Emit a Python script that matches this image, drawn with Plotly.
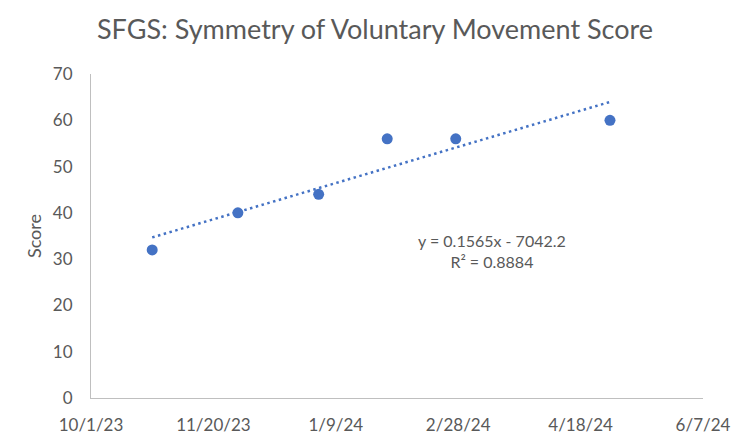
import numpy as np
import pandas as pd
import plotly.graph_objects as go

# Data
dates = ["2023-10-26", "2023-11-30", "2024-01-02", "2024-01-30", "2024-02-27", "2024-04-30"]
scores = [32, 40, 44, 56, 56, 60]

tick_dates = ["2023-10-01", "2023-11-20", "2024-01-09", "2024-02-28", "2024-04-18", "2024-06-07"]
tick_labels = ["10/1/23", "11/20/23", "1/9/24", "2/28/24", "4/18/24", "6/7/24"]

title = "SFGS: Symmetry of Voluntary Movement Score"
y_title = "Score"

# Linear trendline (Excel serial dates)
dt = pd.to_datetime(dates)
serial = np.array((dt - pd.Timestamp("1899-12-30")).days, dtype=float)
y = np.array(scores, dtype=float)
slope, intercept = np.polyfit(serial, y, 1)
pred = slope * serial + intercept
r2 = 1 - np.sum((y - pred) ** 2) / np.sum((y - y.mean()) ** 2)
x_line = [dt.min(), dt.max()]
y_line = [slope * serial.min() + intercept, slope * serial.max() + intercept]

blue = "#4472C4"
grey = "#595959"
font_family = "Lato, 'Open Sans', sans-serif"

fig = go.Figure()
fig.add_trace(go.Scatter(
    x=x_line, y=y_line, mode="lines",
    line=dict(color=blue, width=2.5, dash="2.5px,3.5px"),
    hoverinfo="skip", showlegend=False,
))
fig.add_trace(go.Scatter(
    x=dt, y=scores, mode="markers",
    marker=dict(color=blue, size=11),
    showlegend=False,
))

sign = "-" if intercept < 0 else "+"
eq = f"y = {slope:.4f}x {sign} {abs(intercept):.1f}<br>R² = {r2:.4f}"
fig.add_annotation(
    xref="paper", yref="paper", x=0.656, y=0.455, xanchor="center", yanchor="middle",
    text=eq, showarrow=False, align="center",
    font=dict(family=font_family, size=16, color=grey),
)

fig.update_layout(
    width=750, height=447,
    margin=dict(l=91, r=47, t=74, b=47),
    paper_bgcolor="white", plot_bgcolor="white",
    title=dict(text=title, x=0.5, xanchor="center", y=0.935, yanchor="middle",
               font=dict(family=font_family, size=27, color=grey)),
    font=dict(family=font_family, color=grey),
    xaxis=dict(
        type="date", range=[tick_dates[0], tick_dates[-1]],
        tickmode="array", tickvals=tick_dates, ticktext=tick_labels,
        showgrid=False, zeroline=False, showline=True, linecolor="#BFBFBF", linewidth=1,
        ticks="", tickfont=dict(size=17, color=grey), ticklabelstandoff=12,
    ),
    yaxis=dict(
        range=[0, 70], dtick=10, showgrid=False, zeroline=False,
        showline=True, linecolor="#BFBFBF", linewidth=1, ticks="",
        tickfont=dict(size=17, color=grey), ticklabelstandoff=14,
        title=dict(text=y_title, font=dict(size=18, color=grey), standoff=6),
    ),
)

fig.write_html("out.html")
